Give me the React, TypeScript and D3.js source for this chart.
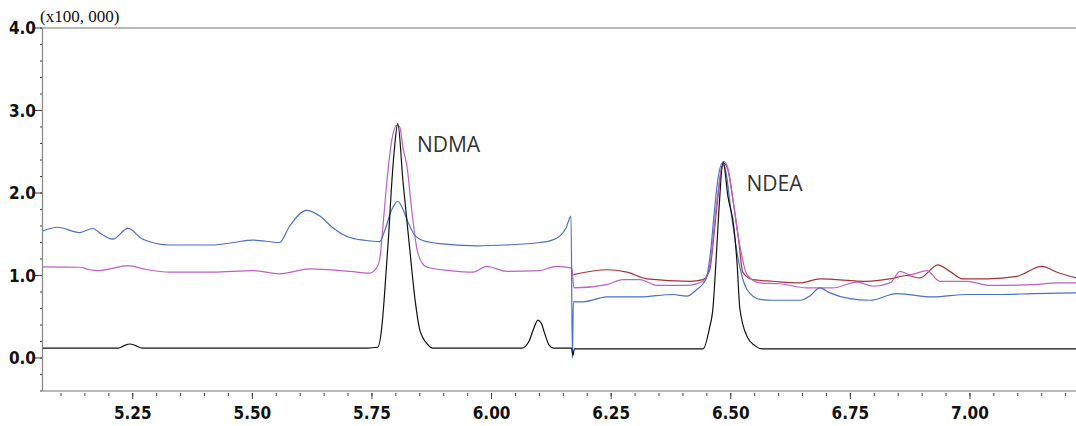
import React from "react";
import * as d3 from "d3";

// retention time (min), intensity (x100,000)
const blackSeries: [number, number][] = [
  [5.062, 0.12], [5.22, 0.12], [5.232, 0.15], [5.244, 0.17], [5.256, 0.15], [5.27, 0.12],
  [5.74, 0.12], [5.762, 0.13], [5.771, 0.4], [5.776, 0.75], [5.785, 1.5], [5.79, 2.0],
  [5.797, 2.54], [5.804, 2.84], [5.815, 2.13], [5.829, 1.32], [5.84, 0.71], [5.85, 0.34],
  [5.867, 0.16], [5.877, 0.12], [6.063, 0.12], [6.078, 0.2], [6.087, 0.34], [6.097, 0.46],
  [6.104, 0.42], [6.112, 0.28], [6.12, 0.16], [6.13, 0.12], [6.167, 0.12], [6.17, 0.03],
  [6.173, 0.11], [6.442, 0.11], [6.455, 0.35], [6.463, 0.62], [6.469, 1.16], [6.475, 1.77],
  [6.484, 2.38], [6.494, 1.96], [6.507, 1.56], [6.513, 1.16], [6.519, 0.6], [6.534, 0.26],
  [6.55, 0.15], [6.567, 0.11], [7.222, 0.11],
];

const blueSeries: [number, number][] = [
  [5.062, 1.54], [5.093, 1.585], [5.139, 1.52], [5.166, 1.57], [5.185, 1.5], [5.208, 1.44],
  [5.24, 1.57], [5.271, 1.44], [5.327, 1.37], [5.417, 1.37], [5.46, 1.4], [5.501, 1.43],
  [5.557, 1.4], [5.578, 1.6], [5.614, 1.79], [5.641, 1.72], [5.668, 1.58], [5.704, 1.46],
  [5.745, 1.42], [5.766, 1.41], [5.777, 1.55], [5.79, 1.78], [5.804, 1.9], [5.815, 1.8],
  [5.825, 1.65], [5.838, 1.5], [5.85, 1.44], [5.886, 1.39], [5.969, 1.36], [6.03, 1.37],
  [6.1, 1.4], [6.122, 1.42], [6.143, 1.48], [6.156, 1.58], [6.166, 1.72], [6.169, 0.0],
  [6.171, 0.68], [6.191, 0.68], [6.241, 0.74], [6.31, 0.74], [6.379, 0.77], [6.408, 0.75],
  [6.429, 0.83], [6.442, 0.9], [6.45, 0.99], [6.458, 1.3], [6.466, 1.8], [6.474, 2.2],
  [6.482, 2.36], [6.49, 2.25], [6.5, 1.8], [6.513, 1.28], [6.534, 0.83], [6.561, 0.71],
  [6.588, 0.7], [6.645, 0.7], [6.665, 0.75], [6.686, 0.85], [6.707, 0.79], [6.749, 0.72],
  [6.791, 0.7], [6.847, 0.78], [6.923, 0.74], [6.994, 0.77], [7.063, 0.77], [7.132, 0.78],
  [7.222, 0.79],
];

const magentaSeries: [number, number][] = [
  [5.062, 1.105], [5.14, 1.1], [5.16, 1.07], [5.18, 1.06], [5.24, 1.12], [5.28, 1.07],
  [5.327, 1.04], [5.417, 1.04], [5.501, 1.06], [5.557, 1.02], [5.62, 1.08], [5.704, 1.05],
  [5.745, 1.03], [5.758, 1.08], [5.766, 1.19], [5.773, 1.6], [5.781, 2.13], [5.792, 2.66],
  [5.802, 2.82], [5.808, 2.8], [5.815, 2.54], [5.823, 2.33], [5.833, 1.8], [5.844, 1.32],
  [5.854, 1.16], [5.865, 1.1], [5.913, 1.06], [5.961, 1.04], [5.99, 1.11], [6.032, 1.05],
  [6.1, 1.06], [6.136, 1.11], [6.168, 1.09], [6.172, 0.85], [6.241, 0.89], [6.274, 0.95],
  [6.31, 0.95], [6.346, 0.88], [6.408, 0.88], [6.442, 0.93], [6.456, 1.11], [6.463, 1.45],
  [6.47, 1.85], [6.478, 2.2], [6.486, 2.38], [6.494, 2.3], [6.505, 1.9], [6.519, 1.36],
  [6.534, 1.01], [6.561, 0.91], [6.603, 0.9], [6.659, 0.85], [6.713, 0.85], [6.764, 0.92],
  [6.797, 0.87], [6.833, 0.91], [6.854, 1.05], [6.874, 1.01], [6.91, 1.06], [6.937, 0.93],
  [6.994, 0.93], [7.042, 0.88], [7.132, 0.89], [7.182, 0.91], [7.222, 0.91],
];

const redSeries: [number, number][] = [
  [6.171, 1.01], [6.241, 1.07], [6.283, 1.04], [6.325, 0.96], [6.415, 0.93], [6.442, 0.95],
  [6.456, 1.07], [6.465, 1.5], [6.473, 1.95], [6.48, 2.28], [6.486, 2.36], [6.494, 2.28],
  [6.505, 1.9], [6.517, 1.4], [6.525, 1.04], [6.546, 0.95], [6.588, 0.93], [6.645, 0.91],
  [6.686, 0.96], [6.785, 0.93], [6.833, 0.96], [6.868, 1.0], [6.895, 0.97], [6.933, 1.13],
  [6.958, 1.05], [6.985, 0.96], [7.036, 0.96], [7.098, 0.99], [7.15, 1.11], [7.182, 1.04],
  [7.222, 0.97],
];

const yMajorTicks = [0, 1, 2, 3, 4];
const xMajorTicks = [5.25, 5.5, 5.75, 6.0, 6.25, 6.5, 6.75, 7.0];
const peakLabels: { text: string; t: number; v: number }[] = [
  { text: "NDMA", t: 5.844, v: 2.5 },
  { text: "NDEA", t: 6.533, v: 2.03 },
];
const scaleLabel = "(x100, 000)";

const W = 1076;
const H = 426;
const L = 42;
const R = 1076;
const T = 28;
const B = 391;

export default function App() {
  const x = d3.scaleLinear().domain([5.0603, 7.2216]).range([L, R]);
  const y = d3.scaleLinear().domain([-0.4, 4.0]).range([B, T]);
  const line = d3
    .line<[number, number]>()
    .x((d) => x(d[0]))
    .y((d) => y(d[1]))
    .curve(d3.curveMonotoneX);

  const yMinor = d3.range(-0.4, 4.0001, 0.2);
  const xMinor = d3.range(5.1, 7.2001, 0.05);
  const tickFont = "'DejaVu Sans Condensed', 'DejaVu Sans', sans-serif";

  const series: { data: [number, number][]; color: string }[] = [
    { data: redSeries, color: "#a3333a" },
    { data: magentaSeries, color: "#c060c4" },
    { data: blueSeries, color: "#4a70c8" },
    { data: blackSeries, color: "#111111" },
  ];

  return (
    <svg
      width={W}
      height={H}
      style={{ position: "absolute", left: 0, top: 0, background: "#fff" }}
    >
      <defs>
        <clipPath id="plot">
          <rect x={L} y={T} width={R - L} height={B - T} />
        </clipPath>
      </defs>
      <rect x={0} y={0} width={W} height={H} fill="#fff" />
      <line x1={L} x2={R} y1={T} y2={T} stroke="#a0a0a0" strokeWidth={1.3} />
      <line x1={L} x2={R} y1={B} y2={B} stroke="#a0a0a0" strokeWidth={1.3} />
      <line x1={L + 0.5} x2={L + 0.5} y1={T} y2={B} stroke="#8a8a8a" strokeWidth={1.3} />

      {yMinor.map((v, i) => (
        <line key={"ym" + i} x1={L - 2} x2={L} y1={y(v)} y2={y(v)} stroke="#444" strokeWidth={1} />
      ))}
      {yMajorTicks.map((v) => (
        <g key={"yM" + v}>
          <line x1={L - 7} x2={L} y1={y(v)} y2={y(v)} stroke="#444" strokeWidth={1} />
          <text
            x={L - 6}
            y={y(v) + 6}
            textAnchor="end"
            fontFamily={tickFont}
            fontWeight="bold"
            fontSize={17}
            fill="#111"
          >
            {d3.format(".1f")(v)}
          </text>
        </g>
      ))}

      {xMinor.map((t, i) => (
        <line key={"xm" + i} x1={x(t)} x2={x(t)} y1={B + 2} y2={B + 5} stroke="#444" strokeWidth={1} />
      ))}
      {xMajorTicks.map((t) => (
        <g key={"xM" + t}>
          <line x1={x(t)} x2={x(t)} y1={B + 2} y2={B + 8} stroke="#444" strokeWidth={1} />
          <text
            x={x(t)}
            y={419}
            textAnchor="middle"
            fontFamily={tickFont}
            fontWeight="bold"
            fontSize={17}
            fill="#111"
          >
            {d3.format(".2f")(t)}
          </text>
        </g>
      ))}

      <text x={40} y={22} fontFamily="'Liberation Serif', serif" fontSize={17} fill="#111">
        {scaleLabel}
      </text>

      <g clipPath="url(#plot)">
        {series.map((s, i) => (
          <path key={i} d={line(s.data) || ""} fill="none" stroke={s.color} strokeWidth={1.2} />
        ))}
      </g>

      {peakLabels.map((p) => (
        <text
          key={p.text}
          x={x(p.t)}
          y={y(p.v)}
          fontFamily="'Open Sans', sans-serif"
          fontSize={21}
          fill="#333"
        >
          {p.text}
        </text>
      ))}
    </svg>
  );
}
